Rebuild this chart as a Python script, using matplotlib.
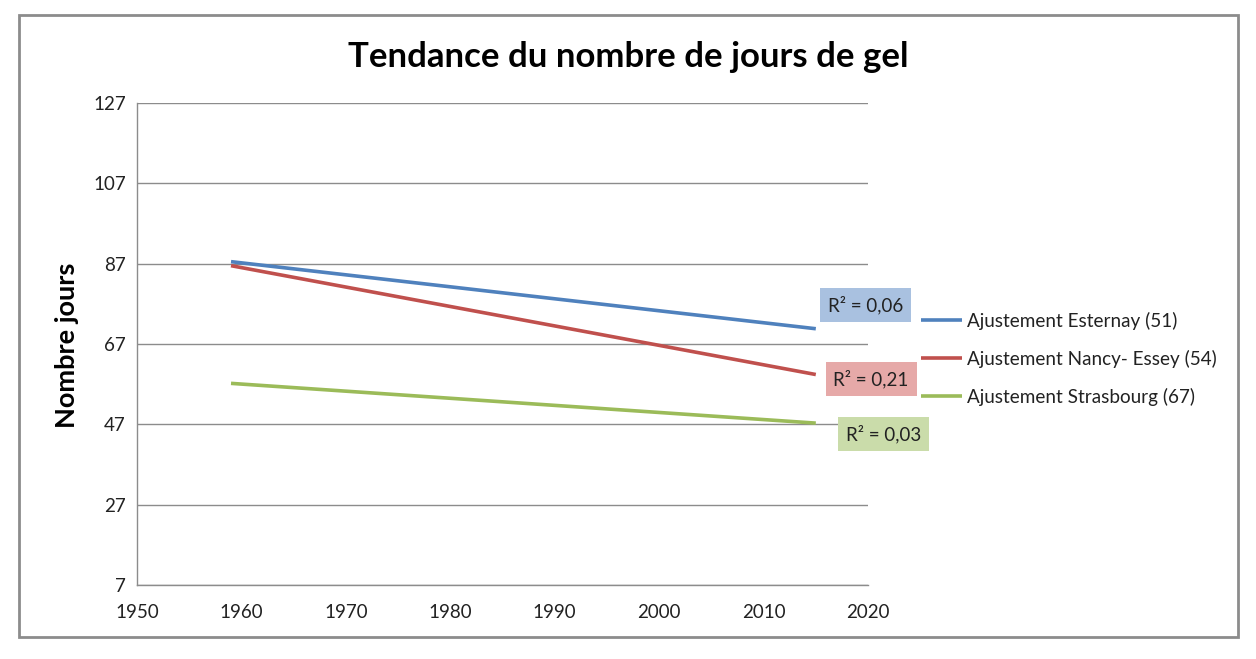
import matplotlib.pyplot as plt
from matplotlib.patches import Rectangle

# trend lines (start / end of each fit)
years = [1959, 2015]
esternay = [87.5, 70.8]
nancy = [86.5, 59.4]
strasbourg = [57.2, 47.3]

series_names = ["Ajustement Esternay (51)", "Ajustement Nancy- Essey (54)",
                "Ajustement Strasbourg (67)"]
r2_labels = ["R² = 0,06", "R² = 0,21", "R² = 0,03"]
yticks = [7, 27, 47, 67, 87, 107, 127]
xticks = [1950, 1960, 1970, 1980, 1990, 2000, 2010, 2020]

colors = ["#4f81bd", "#c0504d", "#9bbb59"]
box_colors = ["#a9c1e0", "#e6a9a8", "#cadcaa"]
# where the R² boxes sit (data coords)
r2_pos = [(2019.8, 76.7), (2020.3, 58.3), (2021.5, 44.6)]

plt.rcParams['font.family'] = ['Lato', 'DejaVu Sans']

fig = plt.figure(figsize=(12.56, 6.59), dpi=100)
ax = fig.add_axes([0.1091, 0.1123, 0.582, 0.7314])

# outer chart frame
fig.patches.append(Rectangle((19 / 1256, 1 - 637 / 659), (1238 - 19) / 1256, (637 - 15) / 659,
                             transform=fig.transFigure, fill=False, edgecolor="#8c8c8c",
                             linewidth=2, zorder=0))

for vals, c, name in zip([esternay, nancy, strasbourg], colors, series_names):
    ax.plot(years, vals, color=c, linewidth=2.6, label=name, solid_capstyle="butt")

for (x, y), txt, bc in zip(r2_pos, r2_labels, box_colors):
    ax.text(x, y, txt, ha="center", va="center", fontsize=13.5, color="#222222",
            bbox=dict(boxstyle="square,pad=0.42", facecolor=bc, edgecolor="none"),
            clip_on=False, zorder=5)

ax.set_xlim(1950, 2020)
ax.set_ylim(7, 127)
ax.set_xticks(xticks)
ax.set_yticks(yticks)
ax.tick_params(length=0, labelsize=13.5, colors="#222222", pad=8)
ax.tick_params(axis="x", pad=14)
ax.grid(axis="y", color="#8c8c8c", linewidth=1)
ax.set_axisbelow(True)
for s in ["top", "right"]:
    ax.spines[s].set_visible(False)
for s in ["left", "bottom"]:
    ax.spines[s].set_color("#8c8c8c")
    ax.spines[s].set_linewidth(1)

ax.set_ylabel("Nombre jours", fontsize=19.5, fontweight="bold")
ax.yaxis.set_label_coords(-0.079, 0.498)
fig.text(0.5, 1 - 57 / 659, "Tendance du nombre de jours de gel", ha="center", va="center",
         fontsize=25, fontweight="bold")

leg = ax.legend(loc="center left", bbox_to_anchor=(1.0725, 0.469), frameon=False, fontsize=13.6,
                borderpad=0, borderaxespad=0, handlelength=2.15, handletextpad=0.3,
                labelspacing=1.05)
for t in leg.get_texts():
    t.set_color("#222222")

fig.savefig("out.png", dpi=100)
